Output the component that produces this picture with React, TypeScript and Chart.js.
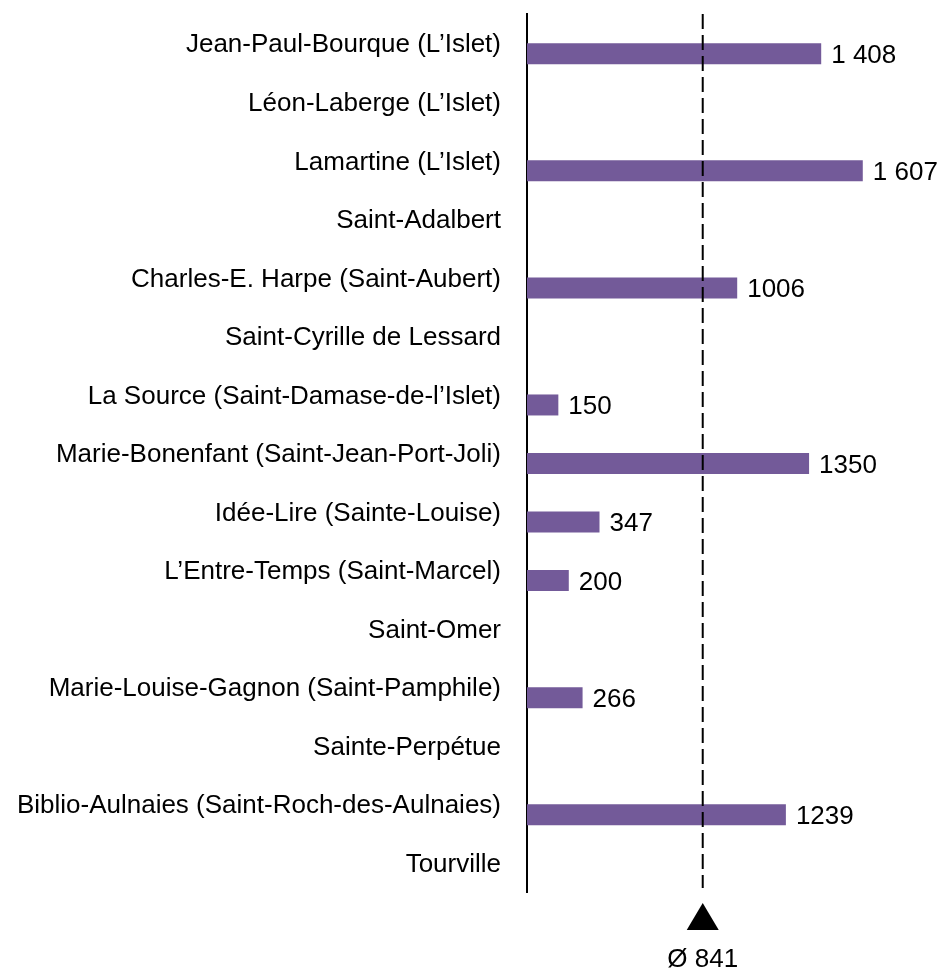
import React, { useEffect, useRef } from "react";
import { Chart, registerables } from "chart.js";

Chart.register(...registerables);

const FONT = "'Liberation Sans', Arial, sans-serif";

const categories = [
  "Jean-Paul-Bourque (L’Islet)",
  "Léon-Laberge (L’Islet)",
  "Lamartine (L’Islet)",
  "Saint-Adalbert",
  "Charles-E. Harpe (Saint-Aubert)",
  "Saint-Cyrille de Lessard",
  "La Source (Saint-Damase-de-l’Islet)",
  "Marie-Bonenfant (Saint-Jean-Port-Joli)",
  "Idée-Lire (Sainte-Louise)",
  "L’Entre-Temps (Saint-Marcel)",
  "Saint-Omer",
  "Marie-Louise-Gagnon (Saint-Pamphile)",
  "Sainte-Perpétue",
  "Biblio-Aulnaies (Saint-Roch-des-Aulnaies)",
  "Tourville",
];

// hidden (empty) companion series, as in the original grouped layout
const hiddenSeries = [null, null, null, null, null, null, null, null, null, null, null, null, null, null, null];

const values = [1408, null, 1607, null, 1006, null, 150, 1350, 347, 200, null, 266, null, 1239, null];

const valueLabels = ["1 408", "", "1 607", "", "1006", "", "150", "1350", "347", "200", "", "266", "", "1239", ""];

const AVERAGE = 841;
const averageLabel = "Ø 841";
const X_MAX = 1900;

const BAR_COLOR = "#735A99";

const overlayPlugin = {
  id: "overlay",
  afterDatasetsDraw(chart: any) {
    const ctx = chart.ctx;
    const meta = chart.getDatasetMeta(1);
    ctx.save();
    ctx.font = `26px ${FONT}`;
    ctx.fillStyle = "#000";
    ctx.textAlign = "left";
    ctx.textBaseline = "middle";
    meta.data.forEach((bar: any, i: number) => {
      if (values[i] == null) return;
      ctx.fillText(valueLabels[i], bar.x + 10, bar.y + 2);
    });

    const x = chart.scales.x.getPixelForValue(AVERAGE);
    const { top, bottom } = chart.chartArea;
    ctx.strokeStyle = "#000";
    ctx.lineWidth = 2;
    ctx.setLineDash([15, 6]);
    ctx.beginPath();
    ctx.moveTo(x, top);
    ctx.lineTo(x, bottom - 4);
    ctx.stroke();
    ctx.setLineDash([]);

    ctx.beginPath();
    ctx.moveTo(x, bottom + 11);
    ctx.lineTo(x + 16, bottom + 38);
    ctx.lineTo(x - 16, bottom + 38);
    ctx.closePath();
    ctx.fill();

    ctx.textAlign = "center";
    ctx.textBaseline = "alphabetic";
    ctx.fillText(averageLabel, x, bottom + 75);
    ctx.restore();
  },
};

export default function App() {
  const canvasRef = useRef<HTMLCanvasElement | null>(null);

  useEffect(() => {
    if (!canvasRef.current) return;
    const chart = new Chart(canvasRef.current, {
      type: "bar",
      data: {
        labels: categories,
        datasets: [
          {
            data: hiddenSeries as any,
            backgroundColor: BAR_COLOR,
            categoryPercentage: 0.7176,
            barPercentage: 1,
          },
          {
            data: values as any,
            backgroundColor: BAR_COLOR,
            categoryPercentage: 0.7176,
            barPercentage: 1,
          },
        ],
      },
      options: {
        indexAxis: "y",
        responsive: false,
        animation: false,
        layout: { padding: { top: 14, right: 17, bottom: 77, left: 0 } },
        plugins: {
          legend: { display: false },
          tooltip: { enabled: false },
        },
        scales: {
          x: {
            display: false,
            min: 0,
            max: X_MAX,
          },
          y: {
            z: 1,
            grid: { display: false, drawTicks: false },
            border: { display: true, color: "#000", width: 2 },
            ticks: {
              autoSkip: false,
              padding: 26,
              labelOffset: 2,
              color: "#000",
              font: { family: FONT, size: 26 },
            },
            afterFit: (scale: any) => {
              scale.width = 527;
              scale.paddingTop = 0;
              scale.paddingBottom = 0;
            },
          },
        },
      },
      plugins: [overlayPlugin],
    });
    return () => chart.destroy();
  }, []);

  return (
    <div style={{ position: "fixed", left: 0, top: 0, width: 941, height: 969, background: "#fff" }}>
      <canvas ref={canvasRef} width={941} height={969} style={{ display: "block" }} />
    </div>
  );
}
